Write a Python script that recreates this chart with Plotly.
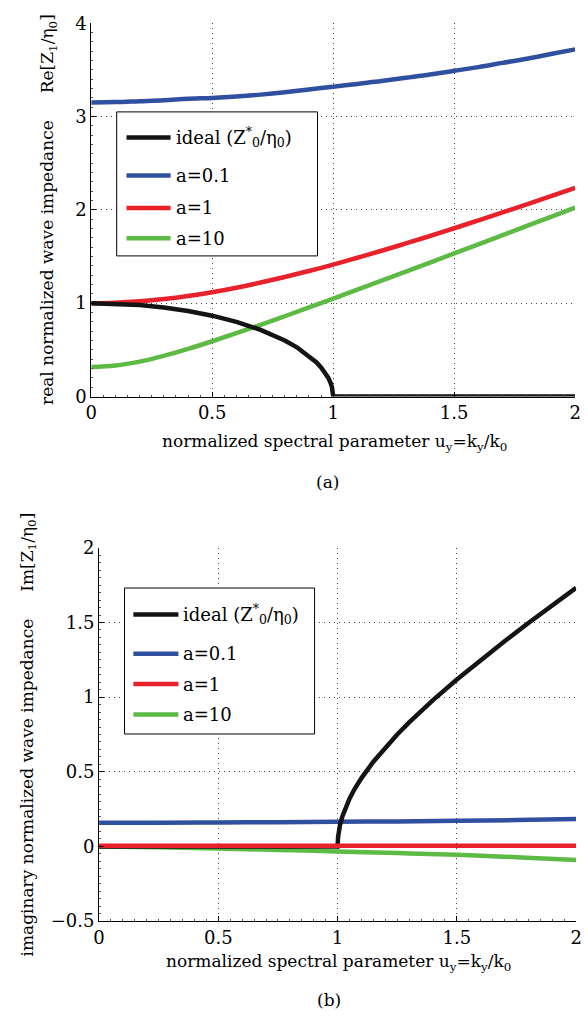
import plotly.graph_objects as go

# ---- data -------------------------------------------------------------
u_grid = [0.0, 0.1, 0.2, 0.3, 0.4, 0.5, 0.6, 0.7, 0.8, 0.9, 1.0,
          1.1, 1.2, 1.3, 1.4, 1.5, 1.6, 1.7, 1.8, 1.9, 2.0]

# real part of the normalized wave impedance
re_a01 = [3.15, 3.155, 3.165, 3.175, 3.19, 3.20, 3.215, 3.235, 3.26, 3.29, 3.32,
          3.35, 3.38, 3.415, 3.45, 3.49, 3.53, 3.575, 3.62, 3.67, 3.72]
re_a1 = [1.00, 1.005, 1.02, 1.044, 1.077, 1.118, 1.166, 1.221, 1.281, 1.345, 1.414,
         1.487, 1.562, 1.640, 1.720, 1.803, 1.887, 1.972, 2.059, 2.147, 2.236]
re_a10 = [0.316, 0.332, 0.374, 0.436, 0.510, 0.592, 0.678, 0.768, 0.860, 0.954, 1.049,
          1.145, 1.241, 1.338, 1.435, 1.533, 1.631, 1.729, 1.828, 1.926, 2.025]

u_ideal_re = [0.0, 0.1, 0.2, 0.3, 0.4, 0.5, 0.6, 0.7, 0.75, 0.8, 0.85, 0.9,
              0.93, 0.95, 0.97, 0.98, 0.99, 0.995, 1.0, 2.0]
re_ideal = [1.000, 0.995, 0.980, 0.954, 0.917, 0.866, 0.800, 0.714, 0.661, 0.600,
            0.527, 0.436, 0.368, 0.312, 0.243, 0.199, 0.141, 0.100, 0.000, 0.000]

# imaginary part of the normalized wave impedance
u_coarse = [0.0, 0.25, 0.5, 0.75, 1.0, 1.25, 1.5, 1.75, 2.0]
im_a01 = [0.158, 0.159, 0.161, 0.163, 0.165, 0.168, 0.172, 0.177, 0.184]
im_a1 = [0.005, 0.005, 0.005, 0.005, 0.005, 0.005, 0.005, 0.005, 0.005]
im_a10 = [0.000, -0.006, -0.014, -0.023, -0.033, -0.044, -0.056, -0.072, -0.090]

u_ideal_im = [0.0, 1.0, 1.002, 1.005, 1.01, 1.02, 1.03, 1.05, 1.07, 1.1, 1.15,
              1.2, 1.25, 1.3, 1.35, 1.4, 1.5, 1.6, 1.7, 1.8, 1.9, 2.0]
im_ideal = [0.000, 0.000, 0.063, 0.100, 0.142, 0.201, 0.247, 0.320, 0.381, 0.458, 0.568,
            0.663, 0.750, 0.831, 0.907, 0.980, 1.118, 1.249, 1.375, 1.497, 1.616, 1.732]

series_names = ["ideal (Z<sup>*</sup><sub>0</sub>/η<sub>0</sub>)",
                "a=0.1", "a=1", "a=10"]
series_colors = ["#141414", "#2f4f9f", "#e8212b", "#5dba45"]

x_ticks = [0, 0.5, 1, 1.5, 2]
x_tick_text = ["0", "0.5", "1", "1.5", "2"]
y_ticks_re = [0, 1, 2, 3, 4]
y_ticks_im = [-0.5, 0, 0.5, 1, 1.5, 2]
y_tick_text_im = ["\u22120.5", "0", "0.5", "1", "1.5", "2"]

# ---- layout helpers ---------------------------------------------------
W, H = 588, 1033
FONT = "DejaVu Serif"


def px(x):
    return x / W


def py(y):
    return 1 - y / H


fig = go.Figure()

top_data = [(u_ideal_re, re_ideal), (u_grid, re_a01), (u_grid, re_a1), (u_grid, re_a10)]
bot_data = [(u_ideal_im, im_ideal), (u_coarse, im_a01), (u_coarse, im_a1), (u_coarse, im_a10)]


def line_style(idx):
    # ideal curve has a vertical tangent at u=1, keep it piecewise linear
    shape = "linear" if idx == 0 else "spline"
    return dict(color=series_colors[idx], width=4.5, shape=shape)


for idx in [3, 2, 1, 0]:
    xs, ys = top_data[idx]
    fig.add_trace(go.Scatter(x=xs, y=ys, mode="lines", name=series_names[idx],
                             line=line_style(idx), showlegend=False,
                             xaxis="x", yaxis="y"))
for idx in [3, 1, 0, 2]:
    xs, ys = bot_data[idx]
    fig.add_trace(go.Scatter(x=xs, y=ys, mode="lines", name=series_names[idx],
                             line=line_style(idx), showlegend=False,
                             xaxis="x2", yaxis="y2"))

axis_common = dict(
    showline=True, linecolor="black", linewidth=1,
    ticks="inside", ticklen=5, tickcolor="black", tickwidth=1,
    showgrid=True, gridcolor="#444444", gridwidth=1, griddash="1px,4px",
    zeroline=False, mirror=False,
    tickfont=dict(family=FONT, size=18, color="black"),
)
minor_x = dict(ticks="inside", ticklen=2, dtick=0.05, tickcolor="#555", showgrid=False)

fig.update_layout(
    width=W, height=H,
    margin=dict(l=0, r=0, t=0, b=0),
    paper_bgcolor="white", plot_bgcolor="white",
    showlegend=False,
    font=dict(family=FONT),
    xaxis=dict(domain=[px(87), px(581)], range=[0, 2], anchor="y",
               tickvals=x_ticks, ticktext=x_tick_text, minor=minor_x,
               **axis_common),
    yaxis=dict(domain=[py(393.5), py(12.5)], range=[0, 4], anchor="x",
               tickvals=y_ticks_re,
               minor=dict(ticks="inside", ticklen=2, dtick=0.1, tickcolor="#555", showgrid=False),
               **axis_common),
    xaxis2=dict(domain=[px(95), px(582)], range=[0, 2], anchor="y2",
                tickvals=x_ticks, ticktext=x_tick_text, minor=minor_x,
                **axis_common),
    yaxis2=dict(domain=[py(929), py(548)], range=[-0.5, 2], anchor="x2",
                tickvals=y_ticks_im, ticktext=y_tick_text_im,
                minor=dict(ticks="inside", ticklen=2, dtick=0.05, tickcolor="#555", showgrid=False),
                **axis_common),
)

shapes = []
annotations = []


def add_legend(box, line_x, text_x, rows):
    x0, y0, x1, y1 = box
    shapes.append(dict(type="rect", xref="paper", yref="paper",
                       x0=px(x0), x1=px(x1), y0=py(y1), y1=py(y0),
                       line=dict(color="black", width=1), fillcolor="white",
                       layer="above"))
    for name, color, ry in zip(series_names, series_colors, rows):
        shapes.append(dict(type="line", xref="paper", yref="paper",
                           x0=px(line_x[0]), x1=px(line_x[1]), y0=py(ry), y1=py(ry),
                           line=dict(color=color, width=4.5), layer="above"))
        annotations.append(dict(xref="paper", yref="paper", x=px(text_x), y=py(ry),
                                xanchor="left", yanchor="middle", showarrow=False,
                                text=name, font=dict(family=FONT, size=18, color="black")))


add_legend((113, 103, 318, 250), (123, 168), 172, [129, 168, 201, 232])
add_legend((121, 589, 315, 738), (130, 176), 179, [616, 656, 687, 718])

gap = "\u00a0" * 5
label_font = dict(family=FONT, size=17, color="black")
annotations += [
    dict(xref="paper", yref="paper", x=px(44), y=py(203), textangle=-90,
         text="real normalized wave impedance" + gap + "Re[Z<sub>1</sub>/η<sub>0</sub>]",
         showarrow=False, xanchor="center", yanchor="middle", font=label_font),
    dict(xref="paper", yref="paper", x=px(23), y=py(739), textangle=-90,
         text="imaginary normalized wave impedance" + gap + "Im[Z<sub>1</sub>/η<sub>0</sub>]",
         showarrow=False, xanchor="center", yanchor="middle", font=label_font),
    dict(xref="paper", yref="paper", x=px(335), y=py(440),
         text="normalized spectral parameter u<sub>y</sub>=k<sub>y</sub>/k<sub>0</sub>",
         showarrow=False, xanchor="center", yanchor="middle", font=label_font),
    dict(xref="paper", yref="paper", x=px(339), y=py(971),
         text="normalized spectral parameter u<sub>y</sub>=k<sub>y</sub>/k<sub>0</sub>",
         showarrow=False, xanchor="center", yanchor="middle", font=label_font),
    dict(xref="paper", yref="paper", x=px(328), y=py(481), text="(a)",
         showarrow=False, xanchor="center", yanchor="middle", font=label_font),
    dict(xref="paper", yref="paper", x=px(330), y=py(1010), text="(b)",
         showarrow=False, xanchor="center", yanchor="middle", font=label_font),
]

fig.update_layout(shapes=shapes, annotations=annotations)

fig.write_html("out.html")
